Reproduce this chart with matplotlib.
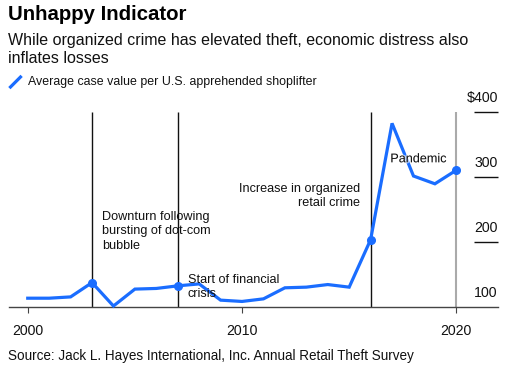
import matplotlib
matplotlib.use("Agg")
import matplotlib.pyplot as plt
import matplotlib.patheffects as pe
from matplotlib.lines import Line2D

years = list(range(2000, 2021))
values = [114, 114, 116, 138, 102, 128, 129, 133, 136, 111, 109, 113, 130, 131, 135, 131, 204, 383, 302, 290, 311]
event_years = [2003, 2007, 2016]
marker_years = [2003, 2007, 2016, 2020]
ytick_vals = [100, 200, 300, 400]
ytick_labels = ["100", "200", "300", "$400"]
xtick_vals = [2000, 2010, 2020]

BLUE = "#1a6dff"
FONT = "Liberation Sans"
plt.rcParams["font.family"] = [FONT, "DejaVu Sans"]

W, H = 512, 372
fig = plt.figure(figsize=(W / 100, H / 100), dpi=100)

def fx(px):
    return px / W

def fy(py):
    return 1 - py / H

ax = fig.add_axes([fx(9.3), fy(307.3), fx(497.7) - fx(9.3), fy(112.3) - fy(307.3)])
ax.set_xlim(1999.14, 2021.93)
ax.set_ylim(100, 400)
for s in ["top", "right", "left"]:
    ax.spines[s].set_visible(False)
ax.spines["bottom"].set_color("#444444")
ax.spines["bottom"].set_linewidth(1.0)
ax.set_yticks([])
ax.set_xticks(xtick_vals)
ax.set_xticklabels([str(v) for v in xtick_vals], fontsize=10.2, color="#111111")
ax.tick_params(axis="x", length=4, width=0.8, color="#444444", pad=8)
ax.patch.set_alpha(0)

# vertical event lines
ax.vlines(event_years, 100, 400, color="#111111", lw=1.0, zorder=1)
ax.vlines([2020], 100, 400, color="#aaaaaa", lw=1.5, zorder=1)

# right-side y ticks
ax.hlines(ytick_vals[1:], 2020.83, 2021.93, color="#111111", lw=1.0, clip_on=False)
for v, lab in zip(ytick_vals, ytick_labels):
    ax.annotate(lab, xy=(2021.93, v), xytext=(0, 10), textcoords="offset points",
                ha="right", va="center", fontsize=10.2, color="#111111")

# the data line
ax.plot(years, values, color=BLUE, lw=2.3, solid_joinstyle="miter", zorder=3, clip_on=False)
mv = [values[years.index(y)] for y in marker_years]
ax.plot(marker_years, mv, "o", color=BLUE, ms=5.5, zorder=4, clip_on=False)

# annotations
ann_kw = dict(fontsize=9.1, color="#111111", linespacing=1.3, zorder=5)
fig.text(fx(102), fy(246 + 6), "Downturn following\nbursting of dot-com\nbubble", ha="left", va="bottom", **ann_kw)
fig.text(fx(187.7), fy(294.3 + 6), "Start of financial\ncrisis", ha="left", va="bottom", **ann_kw)
fig.text(fx(360), fy(203.3 + 6), "Increase in organized\nretail crime", ha="right", va="bottom", multialignment="right", **ann_kw)
t = fig.text(fx(390.3), fy(159.3), "Pandemic", ha="left", va="center", **ann_kw)
t.set_path_effects([pe.withStroke(linewidth=1.5, foreground="white", alpha=0.7)])

# titles
fig.text(fx(8.5), fy(15), "Unhappy Indicator", fontsize=14.7, fontweight="bold", color="#000000", va="center", ha="left")
fig.text(fx(8.5), fy(49.5), "While organized crime has elevated theft, economic distress also\ninflates losses",
         fontsize=11.5, color="#111111", va="center", ha="left", linespacing=1.22)

# legend
fig.add_artist(Line2D([fx(10.5), fx(20.5)], [fy(87), fy(77)], color=BLUE, lw=2.3, transform=fig.transFigure))
fig.text(fx(28), fy(82), "Average case value per U.S. apprehended shoplifter", fontsize=8.95, color="#111111",
         va="center", ha="left")

# source
fig.text(fx(8.5), fy(356), "Source: Jack L. Hayes International, Inc. Annual Retail Theft Survey", fontsize=9.75,
         color="#111111", va="center", ha="left")

fig.savefig("out.png", dpi=100, facecolor="white")
